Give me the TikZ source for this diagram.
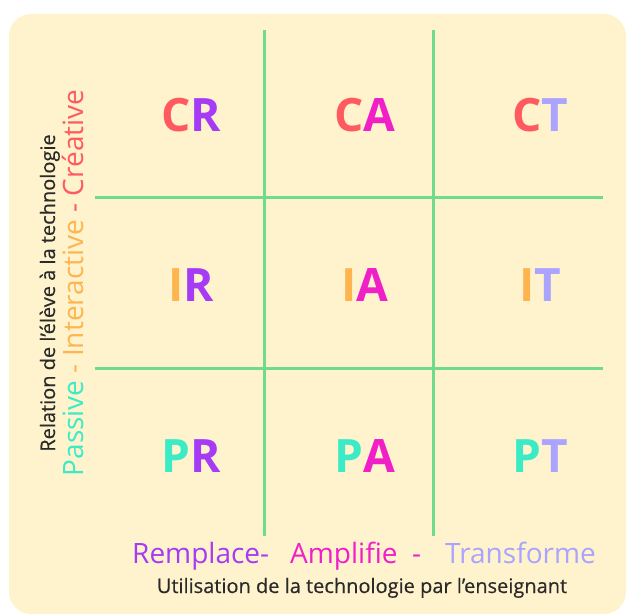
\documentclass[tikz,border=0pt]{standalone}
\usepackage{xcolor}
\usepackage{fontspec}
\setmainfont{Open Sans}
\newfontfamily\titlefont[FakeBold=0.4]{Open Sans}
\usepackage{tikz}
\usetikzlibrary{positioning}

\definecolor{bgcol}{HTML}{FEF3CD}
\definecolor{gridcol}{HTML}{6FDB8C}
\definecolor{cRed}{HTML}{FF5A5F}
\definecolor{cPurple}{HTML}{A53BF5}
\definecolor{cMagenta}{HTML}{F01FC8}
\definecolor{cLav}{HTML}{AAA3FF}
\definecolor{cOrange}{HTML}{FFB54F}
\definecolor{cTurq}{HTML}{3BEBC5}
\definecolor{txtdark}{HTML}{2A2A2A}

\tikzset{
    cell/.style={font=\bfseries\fontsize{46}{46}\selectfont, inner sep=0pt},
    axis/.style={font=\fontsize{28}{28}\selectfont, inner sep=0pt, anchor=base west},
    title/.style={font=\titlefont\fontsize{20}{20}\selectfont, text=txtdark, inner sep=0pt, anchor=base},
    gridline/.style={draw=gridcol, line width=3pt}
}

\begin{document}
\begin{tikzpicture}[x=1pt, y=-1pt]
    \useasboundingbox (0,0) rectangle (627,615);
    \fill[bgcol, rounded corners=22pt] (9,14) rectangle (626,614);

    \coordinate (V1t) at (264,30);
    \coordinate (V1b) at (264,536);
    \coordinate (V2t) at (433,30);
    \coordinate (V2b) at (433,536);
    \coordinate (H1l) at (95,198);
    \coordinate (H1r) at (603,198);
    \coordinate (H2l) at (95,368);
    \coordinate (H2r) at (603,368);

    \draw[gridline] (V1t) -- (V1b);
    \draw[gridline] (V2t) -- (V2b);
    \draw[gridline] (H1l) -- (H1r);
    \draw[gridline] (H2l) -- (H2r);

    \node[cell] (CR) at (191,115) {\textcolor{cRed}{C}\textcolor{cPurple}{R}};
    \node[cell] (CA) at (365,115) {\textcolor{cRed}{C}\textcolor{cMagenta}{A}};
    \node[cell] (CT) at (540,115) {\textcolor{cRed}{C}\textcolor{cLav}{T}};

    \node[cell] (IR) at (191,285) {\textcolor{cOrange}{I}\textcolor{cPurple}{R}};
    \node[cell] (IA) at (365,285) {\textcolor{cOrange}{I}\textcolor{cMagenta}{A}};
    \node[cell] (IT) at (540,285) {\textcolor{cOrange}{I}\textcolor{cLav}{T}};

    \node[cell] (PR) at (191,456) {\textcolor{cTurq}{P}\textcolor{cPurple}{R}};
    \node[cell] (PA) at (365,456) {\textcolor{cTurq}{P}\textcolor{cMagenta}{A}};
    \node[cell] (PT) at (540,456) {\textcolor{cTurq}{P}\textcolor{cLav}{T}};

    % bottom axis
    \node[axis, text=cPurple] (rem) at (132,563) {Remplace-};
    \node[axis, text=cMagenta] (amp) at (290,563) {Amplifie};
    \node[axis, text=cMagenta] (dash) at (412,563) {-};
    \node[axis, text=cLav] (tra) at (445,563) {Transforme};
    \node[title] (uti) at (362,593) {Utilisation de la technologie par l’enseignant};

    % left axis
    \node[title, rotate=90] (rel) at (55,293) {Relation de l’élève à la technologie};
    \node[axis, anchor=base, rotate=90] (lvl) at (83,283)
        {\textcolor{cTurq}{Passive} \textcolor{cOrange}{- Interactive} \textcolor{cRed}{- Créative}};
\end{tikzpicture}
\end{document}
